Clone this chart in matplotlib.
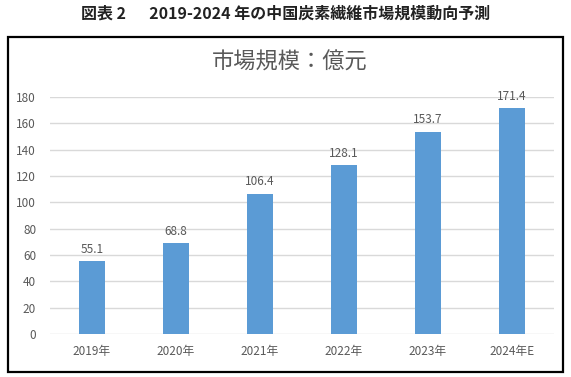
import matplotlib.pyplot as plt
from matplotlib.patches import Rectangle

plt.rcParams['font.family'] = ['Noto Sans CJK JP', 'DejaVu Sans']

years = ['2019年', '2020年', '2021年', '2022年', '2023年', '2024年E']
market_size = [55.1, 68.8, 106.4, 128.1, 153.7, 171.4]

BAR_COLOR = '#5B9BD5'
TEXT_GRAY = '#595959'

fig = plt.figure(figsize=(5.71, 3.77), dpi=100)

# 外枠
fig.patches.append(Rectangle((0.014, 0.013), 0.972, 0.889, transform=fig.transFigure,
                             fill=False, edgecolor='black', linewidth=1.6))

fig.text(0.5, 0.965, '図表 2　  2019-2024 年の中国炭素繊維市場規模動向予測',
         ha='center', va='center', fontsize=11.5, fontweight='bold', color='#222222')

ax = fig.add_axes([0.0876, 0.114, 0.8827, 0.6286])
x = range(len(years))
bars = ax.bar(x, market_size, width=0.31, color=BAR_COLOR, zorder=3)

for b, v in zip(bars, market_size):
    ax.annotate(f'{v:.1f}', (b.get_x() + b.get_width() / 2, v),
                xytext=(0, 4), textcoords='offset points',
                ha='center', va='bottom', fontsize=8.5, color=TEXT_GRAY, clip_on=False)

ax.set_xlim(-0.5, len(years) - 0.5)
ax.set_ylim(0, 180)
ax.set_yticks(range(0, 181, 20))
ax.set_xticks(list(x))
ax.set_xticklabels(years)
ax.tick_params(axis='both', length=0, labelsize=8.5, labelcolor=TEXT_GRAY)
ax.tick_params(axis='x', pad=8)
ax.tick_params(axis='y', pad=10)
ax.grid(axis='y', color='#D9D9D9', linewidth=1, zorder=0)
for s in ax.spines.values():
    s.set_visible(False)

fig.text(0.508, 0.835, '市場規模：億元', ha='center', va='center',
         fontsize=16, color=TEXT_GRAY)

fig.savefig('out.png', dpi=100)
